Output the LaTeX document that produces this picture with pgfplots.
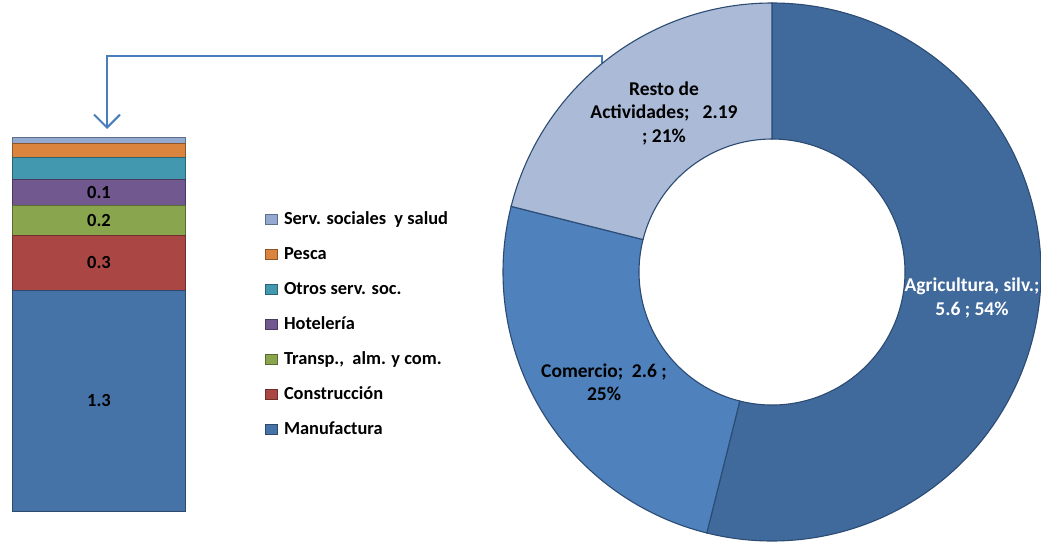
\documentclass[border=0pt]{standalone}
\usepackage{fontspec}
\setmainfont{Carlito}
\usepackage{pgfplots}
\pgfplotsset{compat=1.18}
\usetikzlibrary{arrows.meta}

\definecolor{manuf}{HTML}{4572A7}
\definecolor{constr}{HTML}{AA4643}
\definecolor{transp}{HTML}{89A54E}
\definecolor{hotel}{HTML}{71588F}
\definecolor{otros}{HTML}{4198AF}
\definecolor{pesca}{HTML}{DB843D}
\definecolor{servs}{HTML}{93A9CF}
\definecolor{agri}{HTML}{416A9C}
\definecolor{comer}{HTML}{4F81BD}
\definecolor{resto}{HTML}{AABAD7}
\definecolor{edge}{HTML}{2B4B73}
\definecolor{conn}{HTML}{4A7EBB}

% donut values
\def\vAgri{5.6}
\def\vComer{2.6}
\def\vResto{2.19}

\begin{document}
\begin{tikzpicture}[font=\fontsize{18.5}{23.5}\selectfont\bfseries]
\useasboundingbox (0pt,0pt) rectangle (1041pt,542pt);

% connector from donut to bar
\draw[line width=2pt, conn, -{Straight Barb[length=13pt,width=26pt,line width=2pt]}]
    (602pt,473pt) |- (107pt,486pt) -- (107pt,413pt);

\begin{axis}[
    at={(12pt,31pt)}, anchor=south west,
    scale only axis, width=174pt, height=374pt,
    hide axis, clip=false,
    ybar stacked, bar width=173pt,
    xmin=-0.5, xmax=0.5, ymin=0, ymax=2.20,
    enlargelimits=false,
    reverse legend,
    legend image code/.code={\draw[#1,line width=0.8pt] (0pt,-5pt) rectangle (12pt,5pt);},
    legend style={at={(1,1)}, anchor=north west, xshift=76pt, yshift=-71pt,
        draw=none, fill=none, row sep=17pt,
        font=\fontsize{18.4}{20}\selectfont\bfseries,
        nodes={inner sep=1pt, text height=13pt, text depth=3pt},
        /tikz/every odd column/.append style={column sep=5pt}},
    legend cell align=left,
]
\addplot[fill=manuf, draw=manuf!65!black, line width=0.8pt] coordinates {(0,1.30)};
\addlegendentry{Manufactura}
\addplot[fill=constr, draw=constr!65!black, line width=0.8pt] coordinates {(0,0.32)};
\addlegendentry{Construcción}
\addplot[fill=transp, draw=transp!65!black, line width=0.8pt] coordinates {(0,0.18)};
\addlegendentry{Transp.,\ \ alm. y com.}
\addplot[fill=hotel, draw=hotel!65!black, line width=0.8pt] coordinates {(0,0.15)};
\addlegendentry{Hotelería}
\addplot[fill=otros, draw=otros!65!black, line width=0.8pt] coordinates {(0,0.13)};
\addlegendentry{Otros serv. soc.}
\addplot[fill=pesca, draw=pesca!65!black, line width=0.8pt] coordinates {(0,0.08)};
\addlegendentry{Pesca}
\addplot[fill=servs, draw=servs!65!black, line width=0.8pt] coordinates {(0,0.04)};
\addlegendentry{Serv. sociales\ \ y salud}

\coordinate (lManuf) at (axis cs:0,0.65);
\coordinate (lConstr) at (axis cs:0,1.46);
\coordinate (lTransp) at (axis cs:0,1.71);
\coordinate (lHotel) at (axis cs:0,1.875);
\end{axis}

% segment labels on top of the bars
\node at (lManuf) {1.3};
\node at (lConstr) {0.3};
\node at (lTransp) {0.2};
\node at (lHotel) {0.1};

% donut angles (clockwise from 12 o'clock)
\pgfmathsetmacro\tot{\vAgri+\vComer+\vResto}
\pgfmathsetmacro\aA{90-360*\vAgri/\tot}
\pgfmathsetmacro\aB{\aA-360*\vComer/\tot}
\pgfmathsetmacro\aC{\aB-360*\vResto/\tot}

\begin{axis}[
    at={(772pt,270pt)}, anchor=center,
    scale only axis, width=538pt, height=538pt,
    hide axis, clip=false,
    xmin=-269, xmax=269, ymin=-269, ymax=269,
]
\draw[fill=agri, draw=edge, line width=1.1pt, shift={(axis cs:0,0)}]
    (90:269pt) arc[start angle=90, end angle=\aA, radius=269pt]
    -- (\aA:133pt) arc[start angle=\aA, end angle=90, radius=133pt] -- cycle;
\draw[fill=comer, draw=edge, line width=1.1pt, shift={(axis cs:0,0)}]
    (\aA:269pt) arc[start angle=\aA, end angle=\aB, radius=269pt]
    -- (\aB:133pt) arc[start angle=\aB, end angle=\aA, radius=133pt] -- cycle;
\draw[fill=resto, draw=edge, line width=1.1pt, shift={(axis cs:0,0)}]
    (\aB:269pt) arc[start angle=\aB, end angle=\aC, radius=269pt]
    -- (\aC:133pt) arc[start angle=\aC, end angle=\aB, radius=133pt] -- cycle;
\end{axis}

\begin{scope}[font=\fontsize{19.5}{23.5}\selectfont\bfseries]
\node[align=center] at (664pt,429pt) {Resto de\\Actividades;\ \ \ 2.19\\; 21\%};
\node[align=center, text=white] at (972pt,244pt) {Agricultura, silv.;\\5.6 ; 54\%};
\node[align=center] at (604pt,160pt) {Comercio;\ \ 2.6 ;\\25\%};
\end{scope}
\end{tikzpicture}
\end{document}
